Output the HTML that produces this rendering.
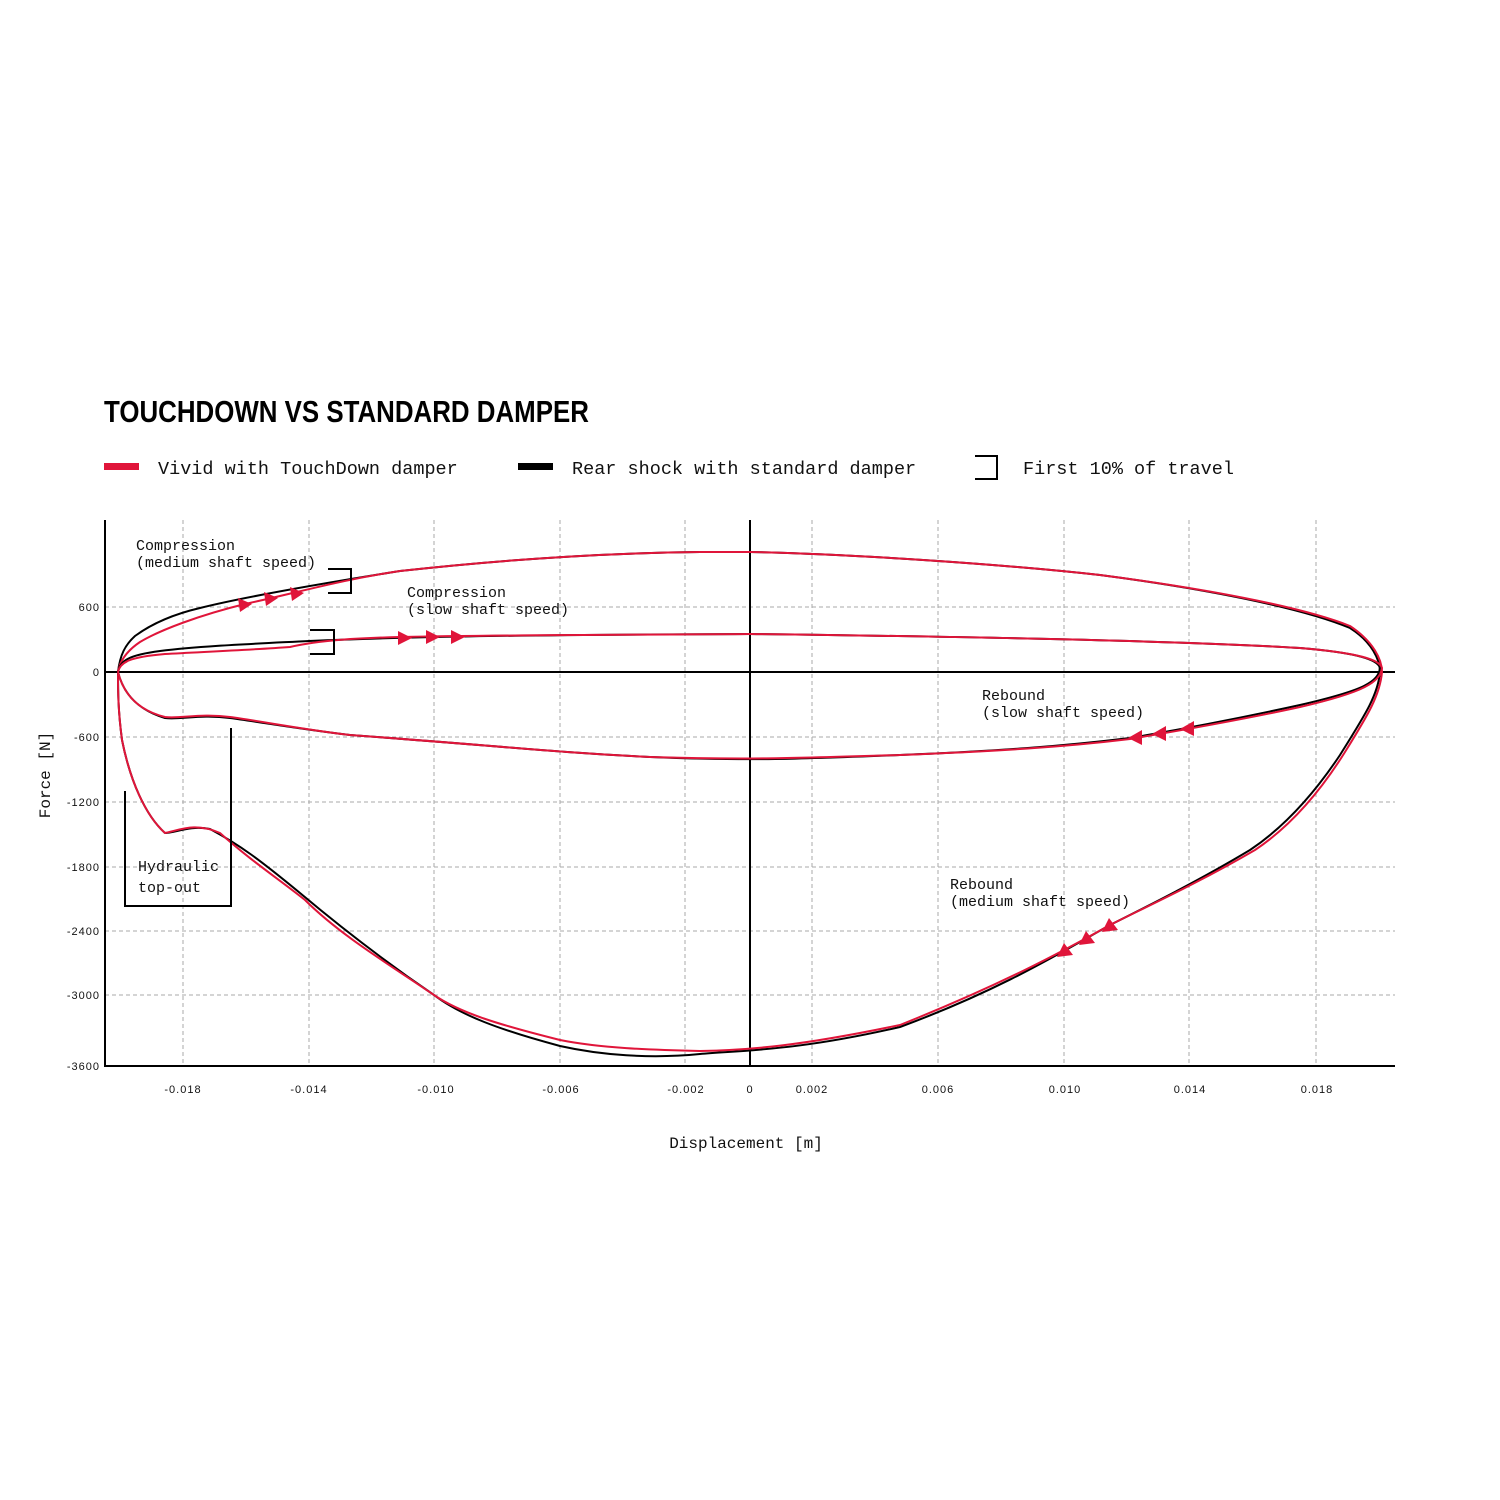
<!DOCTYPE html>
<html><head><meta charset="utf-8"><style>
body{margin:0;background:#fff;}
svg{display:block}
.m{font-family:"Liberation Mono",monospace;fill:#111}
.t{font-family:"Liberation Sans",sans-serif;font-size:11px;fill:#111;letter-spacing:1px}
</style></head><body>
<svg width="1500" height="1500" viewBox="0 0 1500 1500" xmlns="http://www.w3.org/2000/svg">
<rect width="1500" height="1500" fill="#fff"/>
<text x="104" y="422" font-family="'Liberation Sans Narrow','Liberation Sans',sans-serif" font-weight="bold" font-size="31" transform="translate(104 0) scale(0.835 1) translate(-104 0)" fill="#000">TOUCHDOWN VS STANDARD DAMPER</text>
<rect x="104" y="463" width="35" height="7" fill="#e0153a"/>
<text class="m" x="158" y="474" font-size="18.5">Vivid with TouchDown damper</text>
<rect x="518" y="463" width="35" height="7" fill="#000"/>
<text class="m" x="572" y="474" font-size="18.5">Rear shock with standard damper</text>
<path d="M975 456 H997 V479 H975" fill="none" stroke="#000" stroke-width="2"/>
<text class="m" x="1023" y="474" font-size="18.5">First 10% of travel</text>
<g stroke="#aaa" stroke-width="1" stroke-dasharray="4 3" fill="none">
<path d="M183 520V1066M309 520V1066M434 520V1066M560 520V1066M685 520V1066M812 520V1066M938 520V1066M1064 520V1066M1189 520V1066M1316 520V1066"/>
<path d="M105 607H1395M105 737H1395M105 802H1395M105 867H1395M105 931H1395M105 995H1395"/>
</g>
<g stroke="#000" stroke-width="2" fill="none"><path d="M105 520V1066H1395M105 672H1395M750 520V1066"/></g>
<g class="t" text-anchor="end"><text x="100" y="611">600</text><text x="100" y="676">0</text><text x="100" y="741">-600</text><text x="100" y="806">-1200</text><text x="100" y="871">-1800</text><text x="100" y="935">-2400</text><text x="100" y="999">-3000</text><text x="100" y="1070">-3600</text></g>
<g class="t" text-anchor="middle"><text x="183" y="1093">-0.018</text><text x="309" y="1093">-0.014</text><text x="436" y="1093">-0.010</text><text x="561" y="1093">-0.006</text><text x="686" y="1093">-0.002</text><text x="750" y="1093">0</text><text x="812" y="1093">0.002</text><text x="938" y="1093">0.006</text><text x="1065" y="1093">0.010</text><text x="1190" y="1093">0.014</text><text x="1317" y="1093">0.018</text></g>
<text class="m" x="746" y="1148" font-size="16" text-anchor="middle">Displacement [m]</text>
<text class="m" x="50" y="775" font-size="16" text-anchor="middle" transform="rotate(-90 50 775)">Force [N]</text>
<g fill="none" stroke-width="2" stroke-linejoin="round">
<path stroke="#000" d="M118 672 C120 655 125 645 135 636 C150 625 170 615 200 608 C240 598 300 587 400 571 C500 560 600 553 700 552 L750 552 C850 554 1000 564 1100 575 C1200 588 1300 607 1350 628 C1372 642 1380 660 1380 672 C1378 695 1365 715 1340 755 C1310 800 1280 830 1250 850 C1200 880 1150 905 1110 925 C1060 953 1000 990 900 1027 C800 1050 750 1050 700 1054 C650 1059 600 1055 560 1046 C500 1030 460 1015 434 995 C390 965 350 935 300 893 C260 860 240 845 210 829 C190 825 175 833 165 833 C145 815 130 780 122 740 C118 710 118 690 118 672Z"/>
<path stroke="#e0153a" d="M118 672 C120 660 128 650 140 642 C160 630 200 615 245 604 C300 592 340 580 400 571 C500 560 600 553 700 552 L750 552 C850 554 1000 564 1100 575 C1200 588 1300 606 1350 626 C1374 642 1382 660 1382 672 C1380 695 1368 715 1345 752 C1315 800 1285 830 1255 850 C1200 882 1150 905 1110 925 C1060 953 1000 985 900 1025 C800 1046 750 1050 700 1051 C650 1050 600 1048 560 1040 C500 1025 460 1013 434 995 C390 965 340 935 305 900 C280 880 250 860 220 833 C195 822 180 830 165 833 C145 815 130 780 122 740 C118 710 118 690 118 672"/>
<path stroke="#000" d="M118 672 C120 660 130 655 160 651 C200 646 250 644 309 641 C400 637 500 635 750 634 C1000 637 1200 642 1300 648 C1360 653 1378 660 1380 668 C1378 682 1365 690 1300 705 C1250 716 1189 728 1130 738 C1064 746 1000 751 900 755 C800 759 750 761 650 757 C550 752 500 746 350 735 C300 729 260 722 230 718 C200 714 180 720 165 718 C145 712 125 700 118 672"/>
<path stroke="#e0153a" d="M118 672 C120 662 130 657 165 654 C200 652 250 650 290 647 C320 640 360 638 400 637 C500 635 600 635 750 634 C1000 637 1200 642 1300 648 C1360 653 1380 660 1382 668 C1380 682 1365 692 1300 707 C1250 718 1189 729 1130 739 C1064 747 1000 751 900 755 C800 758 750 760 650 757 C550 752 500 746 350 735 C300 729 260 721 230 717 C200 713 180 719 165 717 C145 712 125 700 118 672"/>
</g>
<g fill="#e0153a">
<path d="M238 598 L252 604 L240 612Z"/><path d="M264 592 L278 598 L266 606Z"/><path d="M290 587 L304 593 L292 601Z"/>
<path d="M398 631 L412 638 L398 645Z"/><path d="M426 630 L440 637 L426 644Z"/><path d="M451 630 L465 637 L451 644Z"/>
<path d="M1142 730 L1128 738 L1142 745Z"/><path d="M1166 726 L1152 734 L1166 741Z"/><path d="M1194 721 L1180 729 L1194 736Z"/>
<path d="M1057 957 L1064 943 L1073 955Z"/><path d="M1079 945 L1086 931 L1095 943Z"/><path d="M1102 932 L1109 918 L1118 930Z"/>
</g>
<g fill="none" stroke="#000" stroke-width="2">
<path d="M328 569 H351 V593 H328"/><path d="M310 630 H334 V654 H310"/>
<path d="M125 791 V906 H231 V728"/>
</g>
<g class="m" font-size="15">
<text x="136" y="550">Compression</text><text x="136" y="567">(medium shaft speed)</text>
<text x="407" y="597">Compression</text><text x="407" y="614">(slow shaft speed)</text>
<text x="982" y="700">Rebound</text><text x="982" y="717">(slow shaft speed)</text>
<text x="950" y="889">Rebound</text><text x="950" y="906">(medium shaft speed)</text>
<text x="138" y="871">Hydraulic</text><text x="138" y="892">top-out</text>
</g>
</svg>
</body></html>
